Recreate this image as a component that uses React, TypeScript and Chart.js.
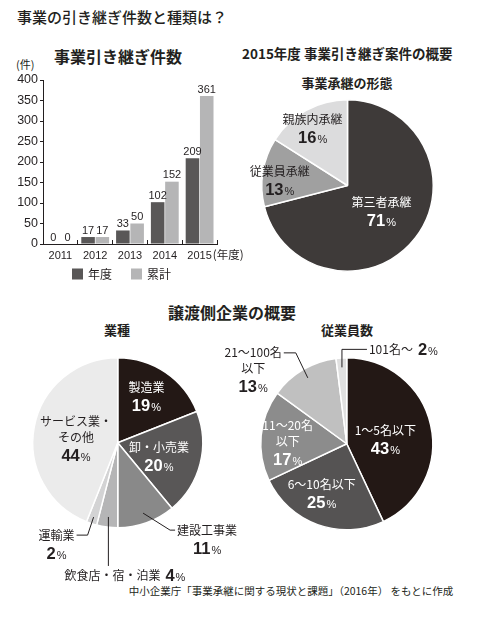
import React, { useEffect, useRef } from "react";
import { Chart, registerables } from "chart.js";

Chart.register(...registerables);

// ---------- data ----------
const years = ["2011", "2012", "2013", "2014", "2015"];
const annualCounts = [0, 17, 33, 102, 209];
const cumulativeCounts = [0, 17, 50, 152, 361];
const seriesNames = ["年度", "累計"];
const yAxisMax = 400;
const yAxisStep = 50;

const formNames = [["第三者承継"], ["従業員承継"], ["親族内承継"]];
const formShares = [71, 13, 16];

const industryNames = [["製造業"], ["卸・小売業"], ["建設工事業"], ["飲食店・宿・泊業"], ["運輸業"], ["サービス業・", "その他"]];
const industryShares = [19, 20, 11, 4, 2, 44];

const employeeNames = [["1〜5名以下"], ["6〜10名以下"], ["11〜20名", "以下"], ["21〜100名", "以下"], ["101名〜"]];
const employeeShares = [43, 25, 17, 13, 2];

// ---------- styles ----------
const INK = "#231f20";
const JP = '"Noto Sans CJK JP", "Noto Sans", sans-serif';
const NUM = '"Liberation Sans", Arial, sans-serif';

const barColors = ["#595757", "#b5b5b6"];
const formColors = ["#3e3a39", "#a0a0a0", "#dcdcdd"];
const industryColors = ["#231815", "#595757", "#898989", "#b5b5b6", "#d3d3d4", "#ebebeb"];
const employeeColors = ["#231815", "#555353", "#8c8c8c", "#c0c0c0", "#e0e0e0"];

type Place = {
  rf: number;
  color: string;
  dx?: number;
  dy?: number;
  leader?: [number, number][];
  gap?: [number, number];
  align?: "left" | "right" | "center";
  inline?: boolean;
};

const formPlaces: Place[] = [
  { rf: 0.5, color: "#fff" },
  { rf: 0.8, color: INK, dy: 6 },
  { rf: 0.845, color: INK, dy: 7 },
];

const industryPlaces: Place[] = [
  { rf: 0.6, color: "#fff", dy: -4 },
  { rf: 0.5, color: "#fff", dy: 4 },
  { rf: 0.88, color: INK, leader: [[27, 17], [5, 0]], gap: [2, 0], align: "left" },
  { rf: 0.88, color: INK, leader: [[0, 49]], gap: [-44, 9], align: "left", inline: true },
  { rf: 0.92, color: INK, leader: [[-6, 18], [-11, 0]], gap: [-2, 0], align: "right" },
  { rf: 0.5, color: INK, dy: 4 },
];

const employeePlaces: Place[] = [
  { rf: 0.46, color: "#fff", dy: 5 },
  { rf: 0.62, color: "#fff", dx: -7 },
  { rf: 0.69, color: "#fff", dy: 5 },
  { rf: 0.89, color: INK, leader: [[-12, -25], [-12, 0]], gap: [-2, 0], align: "right" },
  { rf: 0.89, color: INK, leader: [[0, -18], [25, 0]], gap: [2, 0], align: "left", inline: true },
];

// ---------- label drawing ----------
type Line = { name?: string; pct?: number };

const NAME_FONT = `400 12px ${JP}`;
const NUM_FONT = `bold 16.5px ${NUM}`;
const SIGN_FONT = `400 11px ${NUM}`;

function lineH(l: Line) {
  return l.pct !== undefined ? 19 : 16;
}

function lineW(ctx: CanvasRenderingContext2D, l: Line) {
  let w = 0;
  if (l.name) {
    ctx.font = NAME_FONT;
    w += ctx.measureText(l.name).width;
  }
  if (l.name && l.pct !== undefined) w += 5;
  if (l.pct !== undefined) {
    ctx.font = NUM_FONT;
    w += ctx.measureText(String(l.pct)).width;
    ctx.font = SIGN_FONT;
    w += ctx.measureText("%").width + 1;
  }
  return w;
}

function drawLine(ctx: CanvasRenderingContext2D, l: Line, cx: number, cy: number, color: string) {
  const w = lineW(ctx, l);
  let x = cx - w / 2;
  ctx.fillStyle = color;
  ctx.textAlign = "left";
  if (l.name && l.pct === undefined) {
    ctx.font = NAME_FONT;
    ctx.textBaseline = "middle";
    ctx.fillText(l.name, x, cy);
    return;
  }
  ctx.textBaseline = "alphabetic";
  const base = cy + 6;
  if (l.name) {
    ctx.font = NAME_FONT;
    ctx.fillText(l.name, x, base - 1);
    x += ctx.measureText(l.name).width + 5;
  }
  ctx.font = NUM_FONT;
  ctx.fillText(String(l.pct), x, base);
  x += ctx.measureText(String(l.pct)).width + 1;
  ctx.font = SIGN_FONT;
  ctx.fillText("%", x, base);
}

function makePieLabelPlugin(names: string[][], values: number[], places: Place[]) {
  return {
    id: "sliceLabels",
    afterDatasetsDraw(chart: any) {
      const ctx: CanvasRenderingContext2D = chart.ctx;
      const meta = chart.getDatasetMeta(0);
      ctx.save();
      meta.data.forEach((arc: any, i: number) => {
        const p = places[i];
        const { x, y, startAngle, endAngle, outerRadius } = arc.getProps(
          ["x", "y", "startAngle", "endAngle", "outerRadius"],
          true
        );
        const mid = (startAngle + endAngle) / 2;
        const px = x + Math.cos(mid) * outerRadius * p.rf;
        const py = y + Math.sin(mid) * outerRadius * p.rf;
        let lines: Line[];
        if (p.inline) {
          lines = [...names[i].slice(0, -1).map((n) => ({ name: n })), { name: names[i][names[i].length - 1], pct: values[i] }];
        } else {
          lines = [...names[i].map((n) => ({ name: n })), { pct: values[i] }];
        }
        const W = Math.max(...lines.map((l) => lineW(ctx, l)));
        const H = lines.reduce((s, l) => s + lineH(l), 0);
        let blockCx: number;
        let top: number;
        if (p.leader) {
          let cx = px;
          let cy = py;
          ctx.beginPath();
          ctx.moveTo(cx, cy);
          p.leader.forEach(([dx, dy]) => {
            cx += dx;
            cy += dy;
            ctx.lineTo(cx, cy);
          });
          ctx.strokeStyle = INK;
          ctx.lineWidth = 1;
          ctx.stroke();
          const ax = cx + (p.gap ? p.gap[0] : 0);
          const ay = cy + (p.gap ? p.gap[1] : 0);
          if (p.align === "left") blockCx = ax + W / 2;
          else if (p.align === "right") blockCx = ax - W / 2;
          else blockCx = ax;
          top = ay - lineH(lines[0]) / 2;
        } else {
          blockCx = px + (p.dx || 0);
          top = py + (p.dy || 0) - H / 2;
        }
        let yy = top;
        lines.forEach((l) => {
          const h = lineH(l);
          drawLine(ctx, l, blockCx, yy + h / 2, p.color);
          yy += h;
        });
      });
      ctx.restore();
    },
  };
}

const barValuePlugin = {
  id: "barValues",
  afterDatasetsDraw(chart: any) {
    const ctx: CanvasRenderingContext2D = chart.ctx;
    ctx.save();
    ctx.font = `11px ${NUM}`;
    ctx.fillStyle = INK;
    ctx.textAlign = "center";
    ctx.textBaseline = "bottom";
    chart.data.datasets.forEach((ds: any, di: number) => {
      const meta = chart.getDatasetMeta(di);
      meta.data.forEach((bar: any, i: number) => {
        ctx.fillText(String(ds.data[i]), bar.x, bar.y - 1);
      });
    });
    // unit after the last category label
    const xs = chart.scales.x;
    const last = years.length - 1;
    const lx = xs.getPixelForTick(last);
    ctx.font = `11px ${NUM}`;
    const halfW = ctx.measureText(years[last]).width / 2;
    ctx.font = `11.5px ${JP}`;
    ctx.textAlign = "left";
    ctx.textBaseline = "middle";
    ctx.fillText("(年度)", lx + halfW + 1, xs.top + 11);

    // legend: one swatch + label per dataset, below the axis
    const area = chart.chartArea;
    let lx2 = area.left + 29;
    const ly = xs.bottom + 12;
    ctx.font = `12px ${JP}`;
    chart.data.datasets.forEach((ds: any) => {
      ctx.fillStyle = ds.backgroundColor;
      ctx.fillRect(lx2, ly - 5.5, 11, 11);
      ctx.fillStyle = INK;
      ctx.fillText(ds.label, lx2 + 16, ly);
      lx2 += 16 + ctx.measureText(ds.label).width + 19;
    });
    ctx.restore();
  },
};

// ---------- components ----------
function BarChart() {
  const ref = useRef<HTMLCanvasElement>(null);
  useEffect(() => {
    const chart = new Chart(ref.current!, {
      type: "bar",
      data: {
        labels: years,
        datasets: [
          { label: seriesNames[0], data: annualCounts, backgroundColor: barColors[0], barPercentage: 0.95, categoryPercentage: 0.82 },
          { label: seriesNames[1], data: cumulativeCounts, backgroundColor: barColors[1], barPercentage: 0.95, categoryPercentage: 0.82 },
        ],
      },
      options: {
        animation: false,
        responsive: false,
        maintainAspectRatio: false,
        layout: { padding: { left: 0, right: 28, top: 10, bottom: 25 } },
        plugins: {
          legend: { display: false },
          tooltip: { enabled: false },
        },
        scales: {
          x: {
            grid: { display: true, drawOnChartArea: false, tickLength: -4, color: INK, offset: true },
            border: { color: INK, width: 1 },
            ticks: { color: INK, padding: 9, font: { family: NUM, size: 11 } },
            afterFit: (s: any) => {
              s.height = 18;
            },
          },
          y: {
            min: 0,
            max: yAxisMax,
            grid: { display: true, drawOnChartArea: false, tickLength: 3, color: INK },
            border: { color: INK, width: 1 },
            ticks: { stepSize: yAxisStep, color: INK, padding: 2, font: { family: NUM, size: 12.5 } },
            afterFit: (s: any) => {
              s.width = 43;
            },
          },
        },
      },
      plugins: [barValuePlugin],
    } as any);
    return () => chart.destroy();
  }, []);
  return <canvas ref={ref} width={245} height={217} style={{ position: "absolute", left: 0, top: 70, width: 245, height: 217 }} />;
}

function PieChart(props: {
  names: string[][];
  values: number[];
  colors: string[];
  places: Place[];
  left: number;
  top: number;
  width: number;
  height: number;
  padding: { left: number; right: number; top: number; bottom: number };
}) {
  const ref = useRef<HTMLCanvasElement>(null);
  useEffect(() => {
    const chart = new Chart(ref.current!, {
      type: "pie",
      data: {
        labels: props.names.map((n) => n.join("")),
        datasets: [{ data: props.values, backgroundColor: props.colors, borderColor: "#ffffff", borderWidth: 1.5 }],
      },
      options: {
        animation: false,
        responsive: false,
        maintainAspectRatio: false,
        layout: { padding: props.padding },
        plugins: { legend: { display: false }, tooltip: { enabled: false } },
      },
      plugins: [makePieLabelPlugin(props.names, props.values, props.places)],
    } as any);
    return () => chart.destroy();
  }, []);
  return (
    <canvas
      ref={ref}
      width={props.width}
      height={props.height}
      style={{ position: "absolute", left: props.left, top: props.top, width: props.width, height: props.height }}
    />
  );
}

function Txt(props: { x: number; cy: number; size: number; weight?: number; align?: "left" | "center"; children: React.ReactNode }) {
  const style: React.CSSProperties = {
    position: "absolute",
    top: props.cy - props.size * 0.56,
    fontSize: props.size,
    lineHeight: `${props.size}px`,
    fontFamily: JP,
    fontWeight: props.weight || 400,
    color: INK,
    whiteSpace: "nowrap",
  };
  if (props.align === "center") {
    style.left = props.x - 200;
    style.width = 400;
    style.textAlign = "center";
  } else {
    style.left = props.x;
  }
  return <div style={style}>{props.children}</div>;
}

export default function App() {
  return (
    <div style={{ position: "fixed", left: 0, top: 0, width: 480, height: 620, background: "#fff", overflow: "hidden" }}>
      <Txt x={17} cy={17} size={15} weight={500}>事業の引き継ぎ件数と種類は？</Txt>
      <Txt x={118} cy={57} size={16} weight={700} align="center">事業引き継ぎ件数</Txt>
      <Txt x={16} cy={65} size={11}>(件)</Txt>
      <Txt x={242} cy={55} size={13.5} weight={700}>2015年度 事業引き継ぎ案件の概要</Txt>
      <Txt x={347} cy={83} size={13} weight={700} align="center">事業承継の形態</Txt>
      <Txt x={232} cy={313} size={16} weight={700} align="center">譲渡側企業の概要</Txt>
      <Txt x={117} cy={330} size={13} weight={700} align="center">業種</Txt>
      <Txt x={347} cy={330} size={13} weight={700} align="center">従業員数</Txt>
      <Txt x={291} cy={592} size={10.5} align="center">中小企業庁「事業承継に関する現状と課題」（2016年） をもとに作成</Txt>
      <BarChart />
      <PieChart
        names={formNames}
        values={formShares}
        colors={formColors}
        places={formPlaces}
        left={240}
        top={90}
        width={240}
        height={195}
        padding={{ left: 21, right: 46, top: 9, bottom: 13 }}
      />
      <PieChart
        names={industryNames}
        values={industryShares}
        colors={industryColors}
        places={industryPlaces}
        left={0}
        top={340}
        width={245}
        height={250}
        padding={{ left: 32, right: 41.5, top: 17, bottom: 61.5 }}
      />
      <PieChart
        names={employeeNames}
        values={employeeShares}
        colors={employeeColors}
        places={employeePlaces}
        left={195}
        top={330}
        width={285}
        height={250}
        padding={{ left: 65, right: 46.5, top: 27, bottom: 49.5 }}
      />
    </div>
  );
}
